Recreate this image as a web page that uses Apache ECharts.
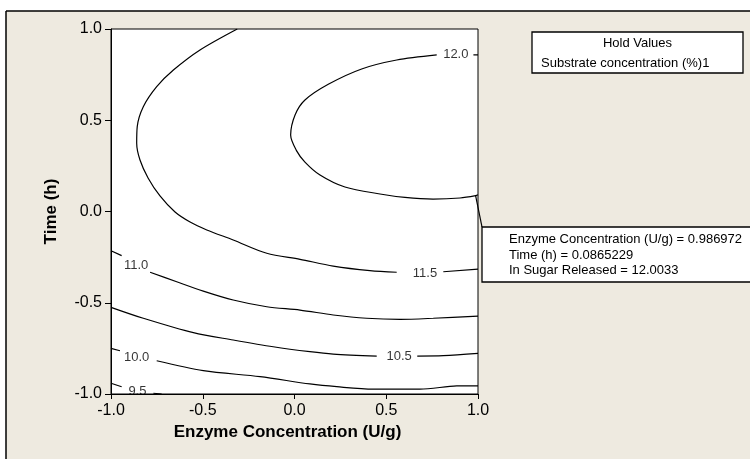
<!DOCTYPE html>
<html>
<head>
<meta charset="utf-8">
<script src="https://cdn.jsdelivr.net/npm/echarts/dist/echarts.min.js"></script>
<style>
  html, body { margin: 0; padding: 0; background: #ffffff; }
  #chart { width: 750px; height: 459px; }
</style>
</head>
<body>
<div id="chart"></div>
<script>
// Axis ticks (coded factor levels)
const xTickValues = [-1.0, -0.5, 0.0, 0.5, 1.0];
const yTickValues = [-1.0, -0.5, 0.0, 0.5, 1.0];

// Contour levels of ln Sugar Released and where each level's label sits
const contourLevels = [12.0, 11.5, 11.0, 10.5, 10.0, 9.5];
const labelPoints = [
  [0.879, 0.858], [0.711, -0.341], [-0.863, -0.297],
  [0.570, -0.796], [-0.860, -0.797], [-0.856, -0.984]
];

// Contour paths [enzyme, time]; null marks a break left for the level label
const contour12_0 = [
  [1.0, 0.858], [0.975, 0.858], null,
  [0.775, 0.858], [0.557, 0.830], [0.366, 0.781], [0.184, 0.697], [0.057, 0.611],
  [0.003, 0.529], [-0.021, 0.419], [0.010, 0.335], [0.057, 0.271], [0.139, 0.200],
  [0.275, 0.134], [0.466, 0.096], [0.602, 0.077], [0.755, 0.068], [0.902, 0.074],
  [0.987, 0.087], [1.0, 0.092]
];
const contour11_5 = [
  [-0.312, 1.0], [-0.515, 0.885], [-0.660, 0.775], [-0.751, 0.684], [-0.824, 0.574],
  [-0.857, 0.465], [-0.860, 0.374], [-0.842, 0.282], [-0.798, 0.184], [-0.733, 0.085],
  [-0.651, -0.003], [-0.569, -0.058], [-0.478, -0.101], [-0.334, -0.156], [-0.151, -0.229],
  [0.030, -0.262], [0.211, -0.299], [0.411, -0.324], [0.557, -0.333], null,
  [0.811, -0.330], [1.0, -0.316]
];
const contour11_0 = [
  [-1.0, -0.215], [-0.942, -0.242], null,
  [-0.787, -0.333], [-0.642, -0.385], [-0.497, -0.436], [-0.334, -0.485], [-0.151, -0.522],
  [0.030, -0.540], [0.211, -0.567], [0.393, -0.585], [0.575, -0.591], [0.756, -0.585],
  [1.0, -0.573]
];
const contour10_5 = [
  [-1.0, -0.525], [-0.824, -0.585], [-0.551, -0.664], [-0.334, -0.704], [-0.116, -0.741],
  [0.084, -0.768], [0.211, -0.781], [0.448, -0.792], null,
  [0.669, -0.792], [0.811, -0.790], [1.0, -0.777]
];
const contour10_0 = [
  [-1.0, -0.750], [-0.951, -0.763], null,
  [-0.751, -0.818], [-0.497, -0.872], [-0.188, -0.905], [0.084, -0.945], [0.230, -0.960],
  [0.429, -0.973], [0.684, -0.973], [0.884, -0.956], [1.0, -0.955]
];
const contour9_5 = [
  [-1.0, -0.941], [-0.942, -0.960], null,
  [-0.769, -0.996], [-0.724, -1.0]
];
const contourPaths = [contour12_0, contour11_5, contour11_0, contour10_5, contour10_0, contour9_5];

// Probed point shown in the readout box
const probePoint = [0.986972, 0.0865229];
const probeValue = 12.0033;
const holdSetting = 1;

const FONT = 'Liberation Sans, Arial, Helvetica, sans-serif';

function splitSegments(points) {
  const segs = [[]];
  points.forEach(p => {
    if (p === null) segs.push([]);
    else segs[segs.length - 1].push(p);
  });
  return segs.filter(s => s.length > 1);
}

const series = [];
contourPaths.forEach((path, i) => {
  splitSegments(path).forEach(seg => {
    series.push({
      type: 'line',
      data: seg,
      smooth: 0.3,
      showSymbol: false,
      symbol: 'none',
      silent: true,
      lineStyle: { color: '#000000', width: 1.2 },
      z: 3
    });
  });
});

series.push({
  type: 'scatter',
  data: contourLevels.map((lv, i) => [labelPoints[i][0], labelPoints[i][1], lv]),
  symbolSize: 1,
  itemStyle: { color: 'rgba(0,0,0,0)' },
  silent: true,
  z: 4,
  label: {
    show: true,
    position: 'inside',
    formatter: p => p.value[2].toFixed(1),
    color: '#000000',
    fontFamily: FONT,
    fontSize: 13
  }
});

series.push({
  type: 'scatter',
  data: [probePoint],
  symbolSize: 0,
  itemStyle: { color: 'rgba(0,0,0,0)' },
  silent: true
});

const chart = echarts.init(document.getElementById('chart'), null, { renderer: 'canvas' });

const axisCommon = {
  type: 'value',
  interval: 0.5,
  nameLocation: 'middle',
  axisLine: { show: true, onZero: false, lineStyle: { color: '#000000', width: 1 } },
  axisTick: { show: true, inside: false, length: 6, lineStyle: { color: '#000000', width: 1 } },
  splitLine: { show: false },
  axisLabel: {
    color: '#000000',
    fontFamily: FONT,
    fontSize: 16,
    formatter: v => v.toFixed(1)
  },
  nameTextStyle: { color: '#000000', fontFamily: FONT, fontSize: 17, fontWeight: 'bold' }
};

chart.setOption({
  animation: false,
  backgroundColor: 'transparent',
  grid: {
    left: 111, top: 29, width: 367, height: 365,
    show: true,
    backgroundColor: '#ffffff',
    borderColor: '#000000',
    borderWidth: 1,
    containLabel: false,
    outerBoundsMode: 'none'
  },
  xAxis: Object.assign({}, axisCommon, {
    min: xTickValues[0],
    max: xTickValues[xTickValues.length - 1],
    name: 'Enzyme Concentration (U/g)',
    nameGap: 30,
    nameTextStyle: Object.assign({}, axisCommon.nameTextStyle, { padding: [0, 14, 0, 0] }),
    axisTick: Object.assign({}, axisCommon.axisTick, { length: 5 }),
    axisLabel: Object.assign({}, axisCommon.axisLabel, { margin: 9 })
  }),
  yAxis: Object.assign({}, axisCommon, {
    min: yTickValues[0],
    max: yTickValues[yTickValues.length - 1],
    name: 'Time (h)',
    nameGap: 51,
    axisLabel: Object.assign({}, axisCommon.axisLabel, { margin: 9 })
  }),
  series: series
});

// Frame, hold-value legend and probe readout
const probePx = chart.convertToPixel({ xAxisIndex: 0, yAxisIndex: 0 }, probePoint);
const textStyle = (text, x, y, align) => ({
  text: text, x: x, y: y,
  fill: '#000000',
  font: '13px ' + FONT,
  align: align, verticalAlign: 'middle',
  textAlign: align, textVerticalAlign: 'middle'
});

chart.setOption({
  graphic: [
    { type: 'rect', z: -10, silent: true, shape: { x: 6, y: 11, width: 744, height: 448 },
      style: { fill: '#eeeae0' } },
    { type: 'line', z: 10, silent: true, shape: { x1: 6, y1: 11, x2: 750, y2: 11 },
      style: { stroke: '#000000', lineWidth: 1.5 } },
    { type: 'line', z: 10, silent: true, shape: { x1: 6, y1: 11, x2: 6, y2: 459 },
      style: { stroke: '#000000', lineWidth: 1.5 } },
    { type: 'rect', z: 10, silent: true, shape: { x: 532, y: 32, width: 211, height: 41 },
      style: { fill: '#ffffff', stroke: '#000000', lineWidth: 1.3 } },
    { type: 'text', z: 11, silent: true, style: textStyle('Hold Values', 637.5, 43.5, 'center') },
    { type: 'text', z: 11, silent: true,
      style: textStyle('Substrate concentration (%)' + holdSetting, 541, 63, 'left') },
    { type: 'line', z: 10, silent: true,
      shape: { x1: probePx[0], y1: probePx[1], x2: 482, y2: 227 },
      style: { stroke: '#000000', lineWidth: 1.2 } },
    { type: 'rect', z: 10, silent: true, shape: { x: 482, y: 227, width: 290, height: 55 },
      style: { fill: '#ffffff', stroke: '#000000', lineWidth: 1.3 } },
    { type: 'text', z: 11, silent: true,
      style: textStyle('Enzyme Concentration (U/g) = ' + probePoint[0], 509, 239.5, 'left') },
    { type: 'text', z: 11, silent: true,
      style: textStyle('Time (h) = ' + probePoint[1], 509, 255, 'left') },
    { type: 'text', z: 11, silent: true,
      style: textStyle('In Sugar Released = ' + probeValue, 509, 270.5, 'left') }
  ]
});
</script>
</body>
</html>
